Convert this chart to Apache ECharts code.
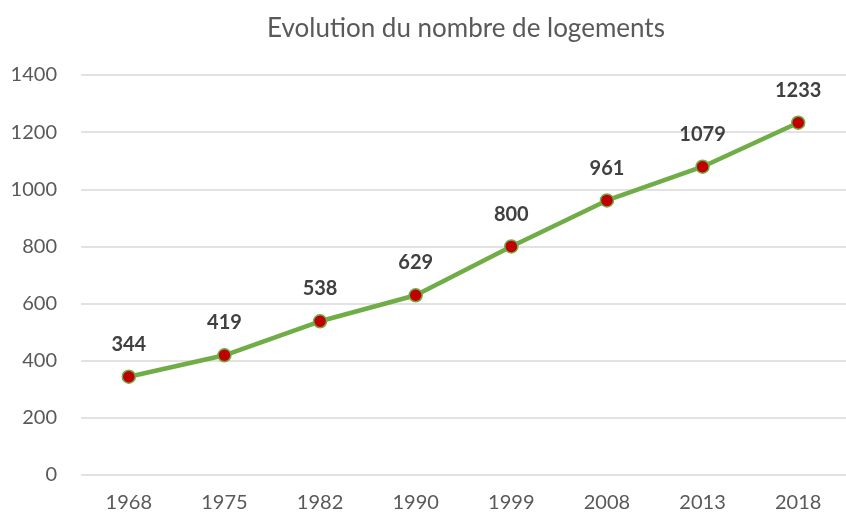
<!DOCTYPE html>
<html>
<head>
<meta charset="utf-8">
<script src="https://cdn.jsdelivr.net/npm/echarts@6/dist/echarts.min.js"></script>
<style>
  html, body { margin: 0; padding: 0; background: #fff; }
  #chart { width: 846px; height: 513px; }
</style>
</head>
<body>
<div id="chart"></div>
<script>
  const years = ['1968', '1975', '1982', '1990', '1999', '2008', '2013', '2018']
  const logements = [344, 419, 538, 629, 800, 961, 1079, 1233]
  const yTicks = { min: 0, max: 1400, interval: 200 }

  const font = 'Lato, "Open Sans", sans-serif'
  const chart = echarts.init(document.getElementById('chart'))

  chart.setOption({
    animation: false,
    title: {
      text: 'Evolution du nombre de logements',
      left: 461,
      top: 11,
      textAlign: 'center',
      textStyle: { fontFamily: font, fontSize: 26, fontWeight: 'normal', color: '#595959' },
    },
    grid: { left: 81, top: 75, width: 771, height: 400 },
    xAxis: {
      type: 'category',
      data: years,
      axisLine: { show: false },
      axisTick: { show: false },
      axisLabel: { margin: 18, fontFamily: font, fontSize: 20, color: '#595959' },
    },
    yAxis: {
      type: 'value',
      min: yTicks.min,
      max: yTicks.max,
      interval: yTicks.interval,
      axisLine: { show: false },
      axisTick: { show: false },
      splitLine: { lineStyle: { color: '#d9d9d9', width: 1.5 } },
      axisLabel: {
        margin: 24,
        fontFamily: font,
        fontSize: 20,
        color: '#595959',
        formatter: (v) => String(v),
      },
    },
    series: [
      {
        type: 'line',
        data: logements,
        symbol: 'circle',
        symbolSize: 13,
        lineStyle: { color: '#70ad47', width: 4.5 },
        itemStyle: { color: '#c00000', borderColor: '#70ad47', borderWidth: 1.5 },
        label: {
          show: true,
          position: 'top',
          distance: 15,
          fontFamily: font,
          fontSize: 20,
          fontWeight: 'bold',
          color: '#404040',
        },
      },
    ],
  })
</script>
</body>
</html>
